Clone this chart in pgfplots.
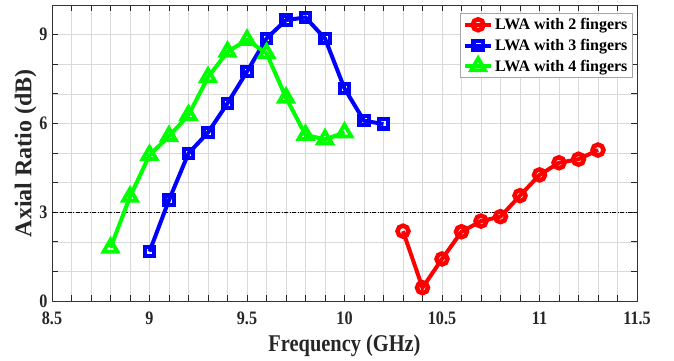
\documentclass[border=0pt]{standalone}
\usepackage{pgfplots}
\pgfplotsset{compat=1.18}
\usepackage{fontspec}
\setmainfont{Liberation Serif}
\newfontfamily\condb[FakeStretch=0.85]{Liberation Serif Bold}
\definecolor{txt}{HTML}{262626}
\begin{document}
\begin{tikzpicture}
\useasboundingbox (-52pt,-59pt) rectangle (622pt,301pt);
\begin{axis}[
  at={(0,0)}, anchor=south west,
  scale only axis, width=585pt, height=296pt,
  xmin=8.5, xmax=11.5, ymin=0, ymax=10,
  xtick={8.5,9,...,11.5}, ytick={0,3,6,9},
  minor xtick={8.6,8.7,...,11.45},
  minor ytick={1,2,4,5,7,8,10},
  xticklabels={8.5,9,9.5,10,10.5,11,11.5},
  grid=both,
  major grid style={gray!30, line width=0.6pt},
  minor grid style={gray!30, line width=0.6pt},
  axis line style={black!80, line width=0.8pt},
  tick style={black!85, line width=0.8pt},
  major tick length=6pt, minor tick length=6pt,
  tick align=inside,
  /pgf/number format/assume math mode=true,
  tick label style={font=\condb\fontsize{19}{19}\selectfont, text=txt},
  xticklabel style={yshift=-7pt},
  yticklabel style={xshift=-1pt},
  xlabel={Frequency (GHz)}, ylabel={Axial Ratio (dB)},
  xlabel style={font=\condb\fontsize{24}{24}\selectfont, text=txt, yshift=-4pt},
  ylabel style={font=\fontsize{24}{24}\selectfont\bfseries, text=txt, yshift=-4pt},
  legend style={at={(0.697,0.973)}, anchor=north west, draw=gray!70, line width=0.8pt,
    font=\fontsize{16}{16}\selectfont\bfseries, text=black, inner sep=3pt, row sep=4pt,
    cells={anchor=west}},
  legend image code/.code={\draw[#1] (0pt,0pt) -- (26pt,0pt); \draw[#1, mark repeat=2, mark phase=2] plot coordinates {(0pt,0pt) (13pt,0pt) (26pt,0pt)};},
]
\addplot[black, line width=0.9pt, dash pattern=on 4pt off 1.5pt on 1pt off 1.5pt, forget plot] coordinates {(8.5,3) (11.5,3)};
\addplot[red, line width=4pt, mark=o, mark size=5.5pt, mark options={fill=white, line width=4.5pt}] coordinates {
(10.3,2.36) (10.4,0.45) (10.5,1.42) (10.6,2.34) (10.7,2.70) (10.8,2.85) (10.9,3.56) (11.0,4.26) (11.1,4.67) (11.2,4.79) (11.3,5.10)};
\addlegendentry{LWA with 2 fingers}
\addplot[blue, line width=4pt, mark=square, mark size=4.6pt, mark options={fill=white, line width=4.2pt}] coordinates {
(9.0,1.67) (9.1,3.41) (9.2,4.99) (9.3,5.69) (9.4,6.68) (9.5,7.75) (9.6,8.87) (9.7,9.49) (9.8,9.58) (9.9,8.87) (10.0,7.18) (10.1,6.09) (10.2,5.98)};
\addlegendentry{LWA with 3 fingers}
\addplot[green, line width=4pt, mark=triangle, mark size=8pt, mark options={fill=white, line width=3.8pt}] coordinates {
(8.8,1.80) (8.9,3.52) (9.0,4.93) (9.1,5.57) (9.2,6.28) (9.3,7.56) (9.4,8.42) (9.5,8.82) (9.6,8.37) (9.7,6.87) (9.8,5.61) (9.9,5.46) (10.0,5.69)};
\addlegendentry{LWA with 4 fingers}
\end{axis}
\end{tikzpicture}
\end{document}
